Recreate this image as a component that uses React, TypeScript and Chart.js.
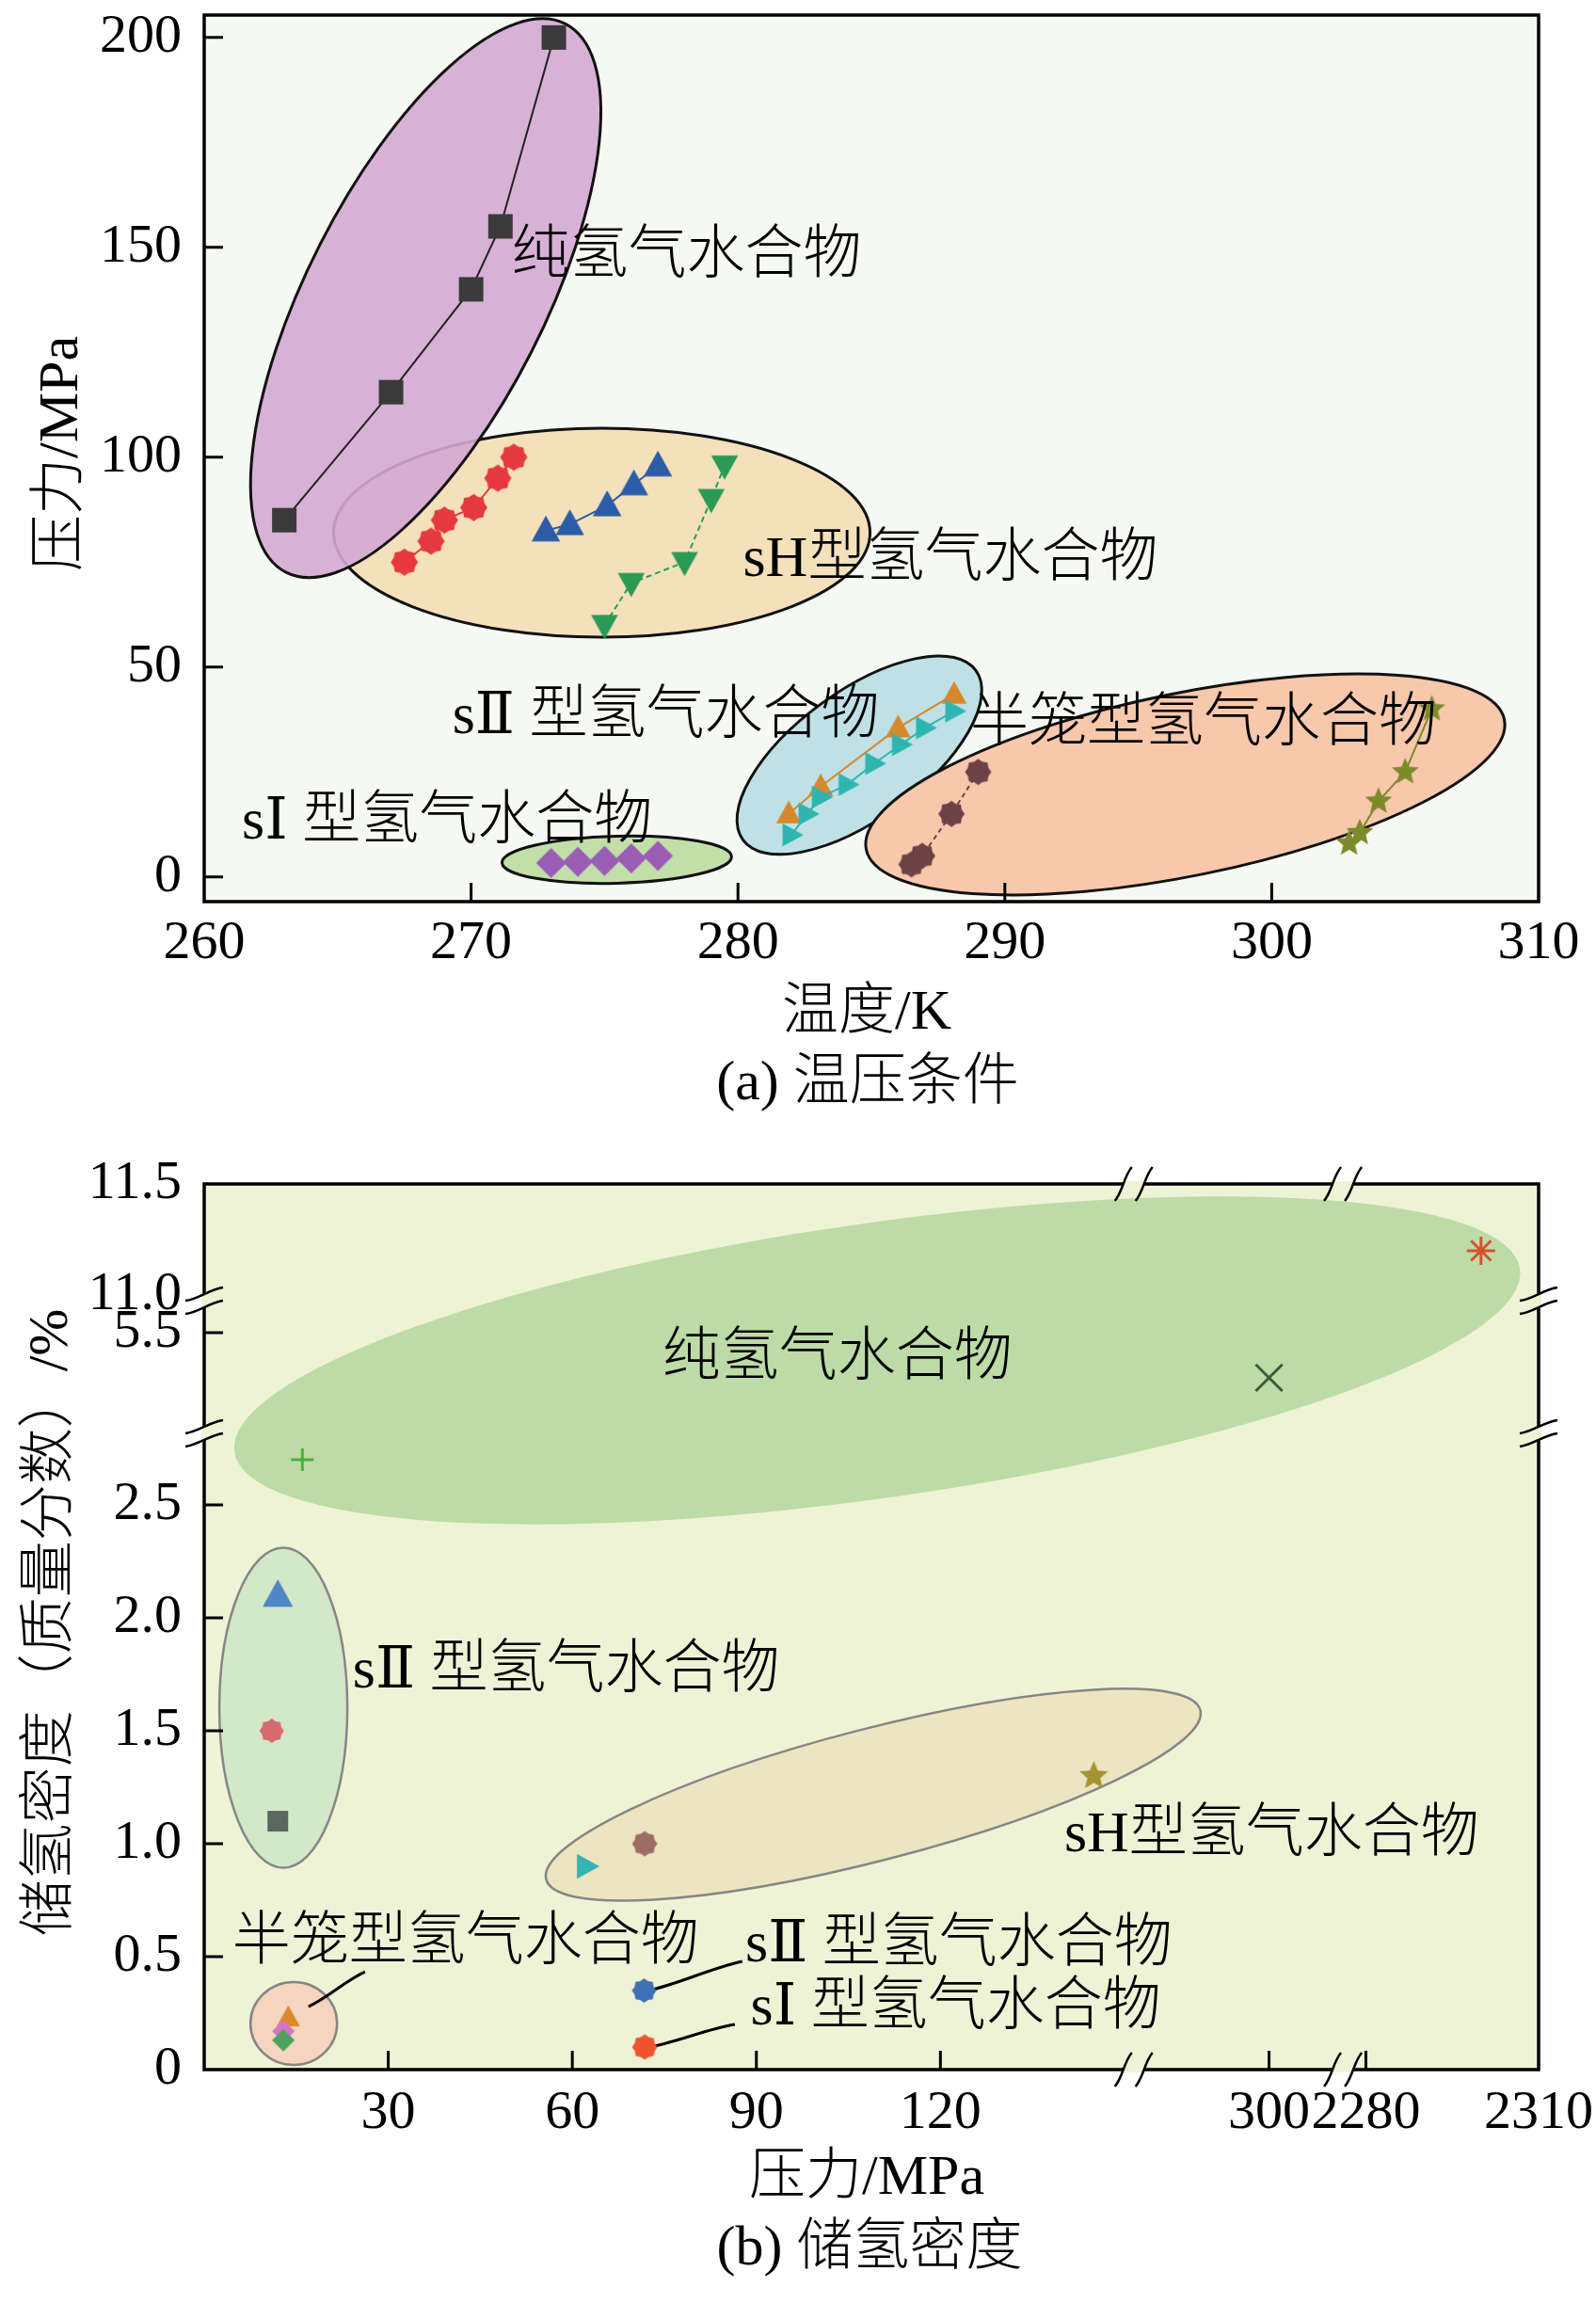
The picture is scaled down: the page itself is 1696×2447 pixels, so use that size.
import React, { useEffect, useRef } from "react";
import { Chart, registerables } from "chart.js";

Chart.register(...registerables);

const FONT = '"Liberation Serif", "DejaVu Serif", "Noto Sans CJK SC", serif';

// ================= Panel (a): 温压条件 =================
const tempTicksA = [260, 270, 280, 290, 300, 310];
const presTicksA = [0, 50, 100, 150, 200];

// 纯氢气水合物
const pureTemp = [263.0, 267.0, 270.0, 271.1, 273.1];
const purePres = [85, 115.5, 140, 155, 200];
// sH型氢气水合物 (three systems)
const sHRedTemp = [267.5, 268.5, 269.0, 270.1, 271.0, 271.6];
const sHRedPres = [75, 80, 85, 88, 95, 100];
const sHBlueTemp = [272.8, 273.7, 275.1, 276.1, 277.0];
const sHBluePres = [82.5, 84, 88.5, 93.5, 98];
const sHGreenTemp = [275.0, 276.0, 278.0, 279.0, 279.5];
const sHGreenPres = [60, 70, 75, 90, 98];
// sII型氢气水合物
const sIIOrangeTemp = [281.9, 283.1, 286.0, 288.1];
const sIIOrangePres = [15, 21.5, 35.5, 43.5];
const sIICyanTemp = [282.0, 282.6, 283.1, 284.1, 285.1, 286.1, 287.0, 288.1];
const sIICyanPres = [10, 15, 19, 22, 27, 31.5, 35.5, 39.5];
// sI型氢气水合物
const sITemp = [273, 274, 275, 276, 277];
const sIPres = [3.3, 3.6, 3.8, 4.4, 5.0];
// 半笼型氢气水合物
const semiBrownTemp = [286.5, 286.9, 288.0, 289.0];
const semiBrownPres = [3, 5, 15, 25];
const semiOliveTemp = [302.9, 303.3, 304.0, 305.0, 306.0];
const semiOlivePres = [8, 10.5, 18, 25, 40];

// ================= Panel (b): 储氢密度 =================
const presTicksB = [30, 60, 90, 120, 300, 2280, 2310];
const densTicksB = [0, 0.5, 1.0, 1.5, 2.0, 2.5, 5.5, 11.0, 11.5];
// broken-axis segments (real value ranges) and their lengths on the drawn axis
const presSegmentsB = [[0, 151.5], [278, 312], [2276, 2310]];
const presSegLenB = [151.5, 34.1, 31.9];
const densSegmentsB = [[0, 2.817], [5.054, 5.641], [10.975, 11.5]];
const densSegLenB = [2.817, 0.587, 0.517];

// 纯氢气水合物
const purePresB = [16, 300, 2300];
const pureDensB = [2.7, 5.3, 11.2];
// sII型 (binary)
const sIIPresB = [12, 11, 12];
const sIIDensB = [2.1, 1.5, 1.1];
// sH型
const sHPresB = [62.3, 71.8, 145];
const sHDensB = [0.9, 1.0, 1.3];
// 半笼型
const semiPresB = [13.7, 12.9, 12.9];
const semiDensB = [0.23, 0.17, 0.13];
// single sII / sI points
const sIIPointPresB = [71.7];
const sIIPointDensB = [0.35];
const sIPointPresB = [71.8];
const sIPointDensB = [0.1];

// ---------- helpers ----------
function mapBroken(v: number, segs: number[][], lens: number[]) {
  let start = 0;
  for (let i = 0; i < segs.length; i++) {
    const [lo, hi] = segs[i];
    if (v <= hi || i === segs.length - 1) return start + ((v - lo) / (hi - lo)) * lens[i];
    start += lens[i];
  }
  return 0;
}
const mapPresB = (v: number) => mapBroken(v, presSegmentsB, presSegLenB);
const mapDensB = (v: number) => mapBroken(v, densSegmentsB, densSegLenB);
const presMaxB = presSegLenB.reduce((a, b) => a + b, 0);
const densMaxB = densSegLenB.reduce((a, b) => a + b, 0);

const pts = (xs: number[], ys: number[]) => xs.map((x, i) => ({ x, y: ys[i] }));
const ptsB = (xs: number[], ys: number[]) => xs.map((x, i) => ({ x: mapPresB(x), y: mapDensB(ys[i]) }));

function shape(kind: string, size: number, fill: string) {
  const c = document.createElement("canvas");
  const dim = Math.ceil(size + 4);
  c.width = dim;
  c.height = dim;
  const g = c.getContext("2d")!;
  const r = size / 2;
  const cx = dim / 2;
  const cy = dim / 2;
  g.beginPath();
  if (kind === "gear") {
    const n = 16;
    for (let i = 0; i < n; i++) {
      const a = (i / n) * Math.PI * 2;
      const rr = i % 2 ? r * 0.84 : r;
      const px = cx + rr * Math.cos(a);
      const py = cy + rr * Math.sin(a);
      if (i === 0) g.moveTo(px, py);
      else g.lineTo(px, py);
    }
  } else if (kind === "star5") {
    for (let i = 0; i < 10; i++) {
      const a = -Math.PI / 2 + (i / 10) * Math.PI * 2;
      const rr = i % 2 ? r * 0.45 : r;
      const px = cx + rr * Math.cos(a);
      const py = cy + rr * Math.sin(a);
      if (i === 0) g.moveTo(px, py);
      else g.lineTo(px, py);
    }
  } else if (kind === "triUp") {
    g.moveTo(cx, cy - r);
    g.lineTo(cx + r * 0.95, cy + r * 0.72);
    g.lineTo(cx - r * 0.95, cy + r * 0.72);
  } else if (kind === "triDown") {
    g.moveTo(cx, cy + r);
    g.lineTo(cx + r * 0.95, cy - r * 0.72);
    g.lineTo(cx - r * 0.95, cy - r * 0.72);
  } else if (kind === "triRight") {
    g.moveTo(cx + r, cy);
    g.lineTo(cx - r * 0.72, cy - r * 0.95);
    g.lineTo(cx - r * 0.72, cy + r * 0.95);
  } else if (kind === "diamond") {
    g.moveTo(cx, cy - r);
    g.lineTo(cx + r, cy);
    g.lineTo(cx, cy + r);
    g.lineTo(cx - r, cy);
  } else {
    g.rect(cx - r, cy - r, 2 * r, 2 * r);
  }
  g.closePath();
  g.fillStyle = fill;
  g.fill();
  return c;
}

function drawEllipse(ctx: any, cx: number, cy: number, e: any) {
  ctx.beginPath();
  ctx.ellipse(cx, cy, e.rx, e.ry, (e.rot * Math.PI) / 180, 0, Math.PI * 2);
  ctx.fillStyle = e.fill;
  ctx.fill();
  if (e.stroke) {
    ctx.lineWidth = e.lw;
    ctx.strokeStyle = e.stroke;
    ctx.stroke();
  }
}

function drawText(ctx: any, text: string, x: number, y: number, size: number, rot = 0) {
  ctx.save();
  ctx.translate(x, y);
  if (rot) ctx.rotate(rot);
  ctx.font = `300 ${size}px ${FONT}`;
  ctx.fillStyle = "#000";
  ctx.textAlign = "center";
  ctx.textBaseline = "middle";
  ctx.fillText(text, 0, 0);
  ctx.restore();
}

function wavy(ctx: any, x0: number, y0: number, x1: number, y1: number) {
  const dx = x1 - x0;
  const dy = y1 - y0;
  const len = Math.hypot(dx, dy);
  const nx = (-dy / len) * 3;
  const ny = (dx / len) * 3;
  ctx.beginPath();
  ctx.moveTo(x0, y0);
  ctx.bezierCurveTo(x0 + dx / 3 + nx, y0 + dy / 3 + ny, x0 + (2 * dx) / 3 - nx, y0 + (2 * dy) / 3 - ny, x1, y1);
  ctx.stroke();
}

// break mark across a horizontal axis line at (x, y)
function breakH(ctx: any, x: number, y: number, bg: string) {
  ctx.save();
  ctx.fillStyle = bg;
  ctx.fillRect(x - 11, y - 3, 22, 6);
  ctx.strokeStyle = "#000";
  ctx.lineWidth = 2.5;
  for (const o of [-11, 11]) wavy(ctx, x + o - 9, y + 18, x + o + 9, y - 18);
  ctx.restore();
}
// break mark across a vertical axis line at (x, y)
function breakV(ctx: any, x: number, y: number, bg: string) {
  ctx.save();
  ctx.fillStyle = bg;
  ctx.fillRect(x - 3, y - 7, 6, 14);
  ctx.strokeStyle = "#000";
  ctx.lineWidth = 2.5;
  for (const o of [-7, 7]) wavy(ctx, x - 20, y + o + 7, x + 20, y + o - 7);
  ctx.restore();
}

// ---------- annotation layout (panel a, data coordinates + pixel radii) ----------
const ellipsesA = [
  { cx: 274.9, cy: 82.0, rx: 285, ry: 111, rot: 0, fill: "#f4e1bb", stroke: "#111", lw: 3 },
  { cx: 268.3, cy: 137.9, rx: 327, ry: 126, rot: -63, fill: "rgba(213,169,211,0.9)", stroke: "#111", lw: 3 },
  { cx: 284.55, cy: 29.0, rx: 153, ry: 68, rot: -36, fill: "#bfe1e6", stroke: "#111", lw: 3 },
  { cx: 296.76, cy: 22.0, rx: 346, ry: 97, rot: -11.5, fill: "#f7c8ab", stroke: "#111", lw: 3 },
  { cx: 275.46, cy: 4.1, rx: 122, ry: 25, rot: -1.5, fill: "#c2dea9", stroke: "#111", lw: 3 },
];
const labelsA = [
  { text: "纯氢气水合物", x: 278.07, y: 147.6 },
  { text: "sH型氢气水合物", x: 287.96, y: 75.3 },
  { text: "sⅡ 型氢气水合物", x: 277.3, y: 37.8 },
  { text: "半笼型氢气水合物", x: 297.45, y: 36.0 },
  { text: "sⅠ 型氢气水合物", x: 269.1, y: 12.8 },
];

// ---------- annotation layout (panel b, drawn-axis coordinates + pixel radii) ----------
const ellipsesB = [
  { cx: 109.7, cy: 3.14, rx: 690, ry: 146, rot: -8.1, fill: "#bddba6", stroke: null, lw: 0 },
  { cx: 12.9, cy: 1.602, rx: 68, ry: 170, rot: 0, fill: "#d3e7c9", stroke: "#868686", lw: 2.5 },
  { cx: 109.05, cy: 1.217, rx: 359, ry: 70, rot: -14.5, fill: "#ede5c1", stroke: "#868686", lw: 2.5 },
  { cx: 14.6, cy: 0.204, rx: 46, ry: 44, rot: 0, fill: "#f6d5c0", stroke: "#868686", lw: 2.5 },
];
const labelsB = [
  { text: "纯氢气水合物", x: 103.2, y: 3.142 },
  { text: "sⅡ 型氢气水合物", x: 59.0, y: 1.758 },
  { text: "sH型氢气水合物", x: 174.0, y: 1.033 },
  { text: "半笼型氢气水合物", x: 42.6, y: 0.554 },
  { text: "sⅡ 型氢气水合物", x: 123.0, y: 0.546 },
  { text: "sⅠ 型氢气水合物", x: 122.5, y: 0.267 },
];
const calloutsB = [
  { x0: 26.2, y0: 0.433, x1: 17.0, y1: 0.279 },
  { x0: 87.7, y0: 0.479, x1: 71.9, y1: 0.346 },
  { x0: 86.5, y0: 0.2, x1: 71.9, y1: 0.096 },
];

const BG_A = "#f6f8f3";
const BG_B = "#eef3d6";

function zeroPad(s: any) {
  s.paddingTop = 0;
  s.paddingBottom = 0;
  s.paddingLeft = 0;
  s.paddingRight = 0;
}

function baseScale(extra: any) {
  return Object.assign(
    {
      type: "linear",
      grid: { display: false, drawTicks: false },
      border: { display: false },
    },
    extra
  );
}

function buildA() {
  const sq = shape("square", 26, "#3a3a3a");
  const red = shape("gear", 29, "#e5393f");
  const blue = shape("triUp", 32, "#2d5ca6");
  const green = shape("triDown", 30, "#2a9a55");
  const orange = shape("triUp", 28, "#d6882c");
  const cyan = shape("triRight", 26, "#2fb5b0");
  const purple = shape("diamond", 32, "#9a5db5");
  const brown = shape("gear", 28, "#6d4246");
  const olive = shape("star5", 30, "#7d8a2a");
  const ds = (data: any, img: any, color: string, line: boolean, dash: number[] = []) => ({
    data,
    pointStyle: img,
    pointRadius: 14,
    showLine: line,
    borderColor: color,
    borderWidth: 2,
    borderDash: dash,
  });
  const plugin = {
    id: "panelA",
    beforeDatasetsDraw(chart: any) {
      const { ctx, chartArea: ca, scales } = chart;
      const x = scales.x;
      const y = scales.y;
      ctx.save();
      ctx.fillStyle = BG_A;
      ctx.fillRect(ca.left, ca.top, ca.right - ca.left, ca.bottom - ca.top);
      for (const e of ellipsesA) drawEllipse(ctx, x.getPixelForValue(e.cx), y.getPixelForValue(e.cy), e);
      ctx.restore();
    },
    afterDatasetsDraw(chart: any) {
      const { ctx, chartArea: ca, scales } = chart;
      const x = scales.x;
      const y = scales.y;
      for (const l of labelsA) drawText(ctx, l.text, x.getPixelForValue(l.x), y.getPixelForValue(l.y), 62);
      ctx.save();
      ctx.strokeStyle = "#000";
      ctx.lineWidth = 3.5;
      ctx.strokeRect(ca.left, ca.top, ca.right - ca.left, ca.bottom - ca.top);
      ctx.lineWidth = 3;
      ctx.beginPath();
      for (const v of presTicksA) {
        const py = y.getPixelForValue(v);
        ctx.moveTo(ca.left, py);
        ctx.lineTo(ca.left + 20, py);
      }
      for (const v of tempTicksA.slice(1, -1)) {
        const px = x.getPixelForValue(v);
        ctx.moveTo(px, ca.bottom);
        ctx.lineTo(px, ca.bottom - 20);
      }
      ctx.stroke();
      ctx.restore();
      const cxm = (ca.left + ca.right) / 2;
      drawText(ctx, "压力/MPa", 66, (ca.top + ca.bottom) / 2 - 5, 60, -Math.PI / 2);
      drawText(ctx, "温度/K", cxm - 5, 1077, 60);
      drawText(ctx, "(a) 温压条件", cxm - 4, 1152, 60);
    },
  };
  return {
    type: "scatter",
    data: {
      datasets: [
        ds(pts(pureTemp, purePres), sq, "#222", true),
        ds(pts(sHRedTemp, sHRedPres), red, "#e5393f", true),
        ds(pts(sHBlueTemp, sHBluePres), blue, "#2d5ca6", true),
        ds(pts(sHGreenTemp, sHGreenPres), green, "#2a9a55", true, [6, 4]),
        ds(pts(sIICyanTemp, sIICyanPres), cyan, "#2fb5b0", true),
        ds(pts(sIIOrangeTemp, sIIOrangePres), orange, "#d6882c", true),
        ds(pts(sITemp, sIPres), purple, "#9a5db5", false),
        ds(pts(semiBrownTemp, semiBrownPres), brown, "#6d4246", true, [5, 4]),
        ds(pts(semiOliveTemp, semiOlivePres), olive, "#7d8a2a", true),
      ],
    },
    options: {
      animation: false,
      responsive: false,
      devicePixelRatio: 1,
      layout: { padding: { top: 11, right: 61, left: 0, bottom: 0 } },
      plugins: { legend: { display: false }, tooltip: { enabled: false }, title: { display: false } },
      scales: {
        x: baseScale({
          min: 260,
          max: 310,
          afterBuildTicks: (s: any) => {
            s.ticks = tempTicksA.map((v) => ({ value: v }));
          },
          afterFit: (s: any) => {
            s.height = 242;
            zeroPad(s);
          },
          ticks: { font: { family: FONT, size: 58 }, color: "#000", autoSkip: false, maxRotation: 0, padding: 10 },
        }),
        y: baseScale({
          min: -5.9,
          max: 205.35,
          afterBuildTicks: (s: any) => {
            s.ticks = presTicksA.map((v) => ({ value: v }));
          },
          afterFit: (s: any) => {
            s.width = 217;
            zeroPad(s);
          },
          ticks: { font: { family: FONT, size: 58 }, color: "#000", autoSkip: false, padding: 24 },
        }),
      },
    },
    plugins: [plugin],
  };
}

function buildB() {
  const plugin = {
    id: "panelB",
    beforeDatasetsDraw(chart: any) {
      const { ctx, chartArea: ca, scales } = chart;
      const x = scales.x;
      const y = scales.y;
      ctx.save();
      ctx.fillStyle = BG_B;
      ctx.fillRect(ca.left, ca.top, ca.right - ca.left, ca.bottom - ca.top);
      for (const e of ellipsesB) drawEllipse(ctx, x.getPixelForValue(e.cx), y.getPixelForValue(e.cy), e);
      ctx.strokeStyle = "#000";
      ctx.lineWidth = 3;
      for (const c of calloutsB) {
        wavy(ctx, x.getPixelForValue(c.x0), y.getPixelForValue(c.y0), x.getPixelForValue(c.x1), y.getPixelForValue(c.y1));
      }
      ctx.restore();
    },
    afterDatasetsDraw(chart: any) {
      const { ctx, chartArea: ca, scales } = chart;
      const x = scales.x;
      const y = scales.y;
      for (const l of labelsB) drawText(ctx, l.text, x.getPixelForValue(l.x), y.getPixelForValue(l.y), 62);
      ctx.save();
      ctx.strokeStyle = "#000";
      ctx.lineWidth = 3.5;
      ctx.strokeRect(ca.left, ca.top, ca.right - ca.left, ca.bottom - ca.top);
      ctx.lineWidth = 3;
      ctx.beginPath();
      for (const v of densTicksB.filter((t) => t > 0 && t < 11)) {
        const py = y.getPixelForValue(mapDensB(v));
        ctx.moveTo(ca.left, py);
        ctx.lineTo(ca.left + 20, py);
      }
      for (const v of presTicksB.slice(0, -1)) {
        const px = x.getPixelForValue(mapPresB(v));
        ctx.moveTo(px, ca.bottom);
        ctx.lineTo(px, ca.bottom - 20);
      }
      ctx.stroke();
      ctx.restore();
      // axis breaks
      let acc = 0;
      for (let i = 0; i < presSegLenB.length - 1; i++) {
        acc += presSegLenB[i];
        const px = x.getPixelForValue(acc);
        breakH(ctx, px, ca.bottom, BG_B);
        breakH(ctx, px, ca.top, BG_B);
      }
      acc = 0;
      for (let i = 0; i < densSegLenB.length - 1; i++) {
        acc += densSegLenB[i];
        const py = y.getPixelForValue(acc);
        breakV(ctx, ca.left, py, BG_B);
        breakV(ctx, ca.right, py, BG_B);
      }
      const cxm = (ca.left + ca.right) / 2;
      drawText(ctx, "储氢密度（质量分数）/%", 55, 524, 60, -Math.PI / 2);
      drawText(ctx, "压力/MPa", cxm - 5, 1115, 60);
      drawText(ctx, "(b) 储氢密度", cxm - 2, 1190, 60);
    },
  };
  const big = (kind: string, size: number, color: string) => shape(kind, size, color);
  return {
    type: "scatter",
    data: {
      datasets: [
        {
          data: ptsB(purePresB, pureDensB),
          pointStyle: ["cross", "crossRot", "star"],
          pointRadius: [12, 20, 15],
          pointBorderColor: ["#4caf3a", "#3b5b3b", "#d4532f"],
          pointBorderWidth: 3,
          pointBackgroundColor: "transparent",
        },
        {
          data: ptsB(sIIPresB, sIIDensB),
          pointStyle: [big("triUp", 34, "#4f86c6"), big("gear", 26, "#d86a6e"), big("square", 22, "#5b6661")],
          pointRadius: 12,
        },
        {
          data: ptsB(sHPresB, sHDensB),
          pointStyle: [big("triRight", 28, "#36b3b3"), big("gear", 27, "#9d6c65"), big("star5", 32, "#a39333")],
          pointRadius: 12,
        },
        {
          data: ptsB(semiPresB, semiDensB),
          pointStyle: [big("triUp", 26, "#d98a2b"), big("diamond", 24, "#d475c7"), big("diamond", 24, "#4da35e")],
          pointRadius: 12,
        },
        { data: ptsB(sIIPointPresB, sIIPointDensB), pointStyle: big("gear", 26, "#3f6fb5"), pointRadius: 12 },
        { data: ptsB(sIPointPresB, sIPointDensB), pointStyle: big("gear", 27, "#f0532b"), pointRadius: 12 },
      ],
    },
    options: {
      animation: false,
      responsive: false,
      devicePixelRatio: 1,
      layout: { padding: { top: 58, right: 61, left: 0, bottom: 0 } },
      plugins: { legend: { display: false }, tooltip: { enabled: false }, title: { display: false } },
      scales: {
        x: baseScale({
          min: 0,
          max: presMaxB,
          afterBuildTicks: (s: any) => {
            s.ticks = presTicksB.map((v) => ({ value: mapPresB(v) }));
          },
          afterFit: (s: any) => {
            s.height = 248;
            zeroPad(s);
          },
          ticks: {
            font: { family: FONT, size: 58 },
            color: "#000",
            autoSkip: false,
            maxRotation: 0,
            padding: 12,
            callback: (_v: any, i: number) => String(presTicksB[i]),
          },
        }),
        y: baseScale({
          min: 0,
          max: densMaxB,
          afterBuildTicks: (s: any) => {
            s.ticks = densTicksB.map((v) => ({ value: mapDensB(v) }));
          },
          afterFit: (s: any) => {
            s.width = 217;
            zeroPad(s);
          },
          ticks: {
            font: { family: FONT, size: 58 },
            color: "#000",
            autoSkip: false,
            padding: 24,
            callback: (_v: any, i: number) => (densTicksB[i] === 0 ? "0" : densTicksB[i].toFixed(1)),
          },
        }),
      },
    },
    plugins: [plugin],
  };
}

export default function App() {
  const refA = useRef<HTMLCanvasElement>(null);
  const refB = useRef<HTMLCanvasElement>(null);
  useEffect(() => {
    const a = new Chart(refA.current as any, buildA() as any);
    const b = new Chart(refB.current as any, buildB() as any);
    return () => {
      a.destroy();
      b.destroy();
    };
  }, []);
  return (
    <div style={{ position: "absolute", left: 0, top: 0, width: 1696, height: 2447, background: "#fff" }}>
      <canvas
        ref={refA}
        width={1696}
        height={1200}
        style={{ position: "absolute", left: 0, top: 0, width: 1696, height: 1200 }}
      />
      <canvas
        ref={refB}
        width={1696}
        height={1247}
        style={{ position: "absolute", left: 0, top: 1200, width: 1696, height: 1247 }}
      />
    </div>
  );
}
